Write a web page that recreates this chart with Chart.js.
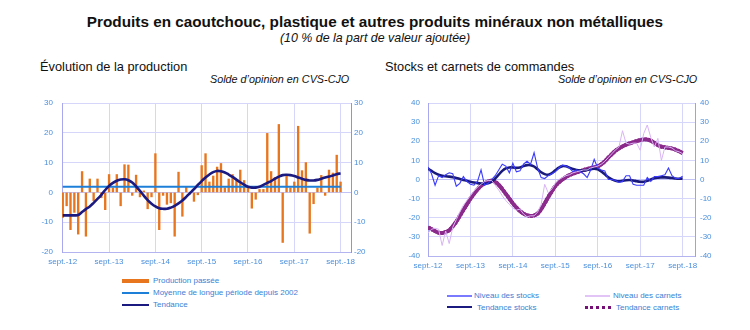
<!DOCTYPE html>
<html>
<head>
<meta charset="utf-8">
<script src="https://cdn.jsdelivr.net/npm/chart.js@4/dist/chart.umd.min.js"></script>
<style>
  body { margin: 0; width: 750px; height: 330px; background: #fff; position: relative; overflow: hidden;
         font-family: "Liberation Sans", Arial, sans-serif; }
  .txt { position: absolute; white-space: nowrap; }
  .title { left: 0; width: 750px; top: 13px; text-align: center; font-weight: bold; font-size: 15.3px; color: #111; }
  .subtitle { left: 0; width: 750px; top: 31px; text-align: center; font-style: italic; font-size: 12.4px; color: #111; }
  .panel { font-size: 12.8px; color: #111; top: 59px; }
  .unit { font-size: 10.8px; font-style: italic; color: #111; top: 73px; }
  .cv { position: absolute; top: 95px; }
  .leg { font-size: 8px; color: #3a7fd5; line-height: 10px; }
  .sw { position: absolute; height: 0; }
</style>
</head>
<body>
<div class="txt title">Produits en caoutchouc, plastique et autres produits minéraux non métalliques</div>
<div class="txt subtitle">(10 % de la part de valeur ajoutée)</div>

<div class="txt panel" style="left:40px">Évolution de la production</div>
<div class="txt unit" style="left:210px">Solde d’opinion en CVS-CJO</div>
<div class="txt panel" style="left:385px">Stocks et carnets de commandes</div>
<div class="txt unit" style="left:558px">Solde d’opinion en CVS-CJO</div>

<canvas id="prod" class="cv" style="left:0" width="375" height="180"></canvas>
<canvas id="stk" class="cv" style="left:375px" width="375" height="180"></canvas>

<!-- legends -->
<div class="sw" style="left:122px;top:279px;width:27px;border-top:4px solid #e8761e"></div>
<div class="txt leg" style="left:153px;top:276px">Production passée</div>
<div class="sw" style="left:122px;top:292px;width:27px;border-top:2px solid #1e7fd8"></div>
<div class="txt leg" style="left:153px;top:288px">Moyenne de longue période depuis 2002</div>
<div class="sw" style="left:122px;top:304px;width:27px;border-top:2px solid #1a1a80"></div>
<div class="txt leg" style="left:153px;top:300px">Tendance</div>

<div class="sw" style="left:447px;top:295px;width:25px;border-top:2px solid #7a7aff"></div>
<div class="txt leg" style="left:474px;top:291px">Niveau des stocks</div>
<div class="sw" style="left:447px;top:306px;width:25px;border-top:2px solid #1a1a80"></div>
<div class="txt leg" style="left:477px;top:303px">Tendance stocks</div>
<div class="sw" style="left:585px;top:295px;width:25px;border-top:2px solid #e2c4f6"></div>
<div class="txt leg" style="left:613px;top:291px">Niveau des carnets</div>
<div class="sw" style="left:585px;top:306px;width:26px;border-top:3px dotted #761076"></div>
<div class="txt leg" style="left:616px;top:303px">Tendance carnets</div>

<script>
// Monthly observations, September 2012 to September 2018 (73 months)
const tickLabels = ['sept.-12', 'sept.-13', 'sept.-14', 'sept.-15', 'sept.-16', 'sept.-17', 'sept.-18'];
const tickMonths = [0, 12, 24, 36, 48, 60, 72];

// Past production (opinion balance)
const production = [
  -8.4, -4.5, -12.5, -6.7, -14, 7, -14.7, 4.5, -2.8, 4.5, -1.8, -5.8,
  6, 1.5, 6, -4.5, 9.3, 9.2, -1, 5.8, -1.5, 0.5, -5.5, -1.5,
  13, -12.5, -1, -4, -3.5, -14.7, 6.8, -8, 1.7, 0, -3, -0.8,
  9, 13, 3.5, 5.5, 8.5, 9.7, 1.5, 4.5, 6, 4, 7.5, 4,
  1.5, -5.3, -2.3, 1, 1, 19.8, 7, 5, 22.8, -16.8, 6, 1.5,
  3.5, 22.2, 7.3, 10, -13.7, -3.8, 1.5, 5.7, -1, 7.5, 6.5, 12.5, 3.5
];
const productionTrend = [
  -7.7, -7.7, -7.7, -7.7, -7.6, -6.6, -5.6, -4.7, -3.5, -2.2, -0.8, 0.8,
  2.2, 3.2, 3.9, 4.3, 4.4, 4.1, 3.3, 2.0, 0.5, -1.1, -2.6, -3.8,
  -4.7, -5.3, -5.5, -5.5, -5.1, -4.5, -3.7, -2.7, -1.5, -0.2, 1.1, 2.5,
  3.8, 5.0, 6.0, 6.8, 7.2, 7.1, 6.7, 6.0, 5.2, 4.3, 3.4, 2.6,
  1.9, 1.6, 1.6, 1.9, 2.5, 3.2, 3.8, 4.6, 5.3, 5.8, 5.9, 5.8,
  5.5, 5.0, 4.6, 4.2, 4.0, 4.0, 4.2, 4.6, 5.0, 5.3, 5.7, 6.1, 6.4
];
const longTermMean = 1.9;

// Inventories and order books
const stocksLevel = [
  6.5, 3, -3, 2, 1, 2.5, 3.5, 3, -3.5, -2, 1.5, -1,
  -2.5, -3, -1, 5, -3, -2, 0, 2, 5, 8, 7, 3.5,
  8.5, 4, 4.5, 8, 9.5, 8, 14, 6, 1, 0.5, 2, 3,
  4, 6, 7.5, 7, 6, 4, 5, 4, 3, 1, 5, 10.5,
  6, 5, 4.5, 0, 0, -0.5, -1.5, -1, 2, 2, -2.5, -3,
  -3, -3, 1, -1, 1.5, 1.5, 2, 2.5, 6, 2, 0.5, 0.5, 1.7
];
const stocksTrend = [
  5.7, 4.5, 3.3, 2.5, 2.0, 1.7, 1.5, 1.2, 0.8, 0.3, -0.2, -0.7,
  -1.2, -1.6, -1.9, -2.1, -2.2, -2.0, -1.2, 0.5, 2.5, 4.5, 5.8, 6.3,
  6.3, 6.1, 6.3, 7.0, 7.5, 7.5, 6.8, 5.3, 3.8, 2.8, 2.5, 3.3,
  4.8, 6.2, 7.0, 6.9, 6.2, 5.5, 5.0, 4.7, 4.7, 5.0, 5.4, 5.7,
  5.3, 4.2, 2.7, 1.2, 0.1, -0.6, -0.9, -0.7, -0.4, -0.3, -0.5, -0.9,
  -1.2, -1.2, -0.7, 0.0, 0.7, 1.0, 1.1, 1.1, 1.0, 0.8, 0.5, 0.4, 0.5
];
const ordersLevel = [
  -28, -26, -25.5, -26, -34.5, -27, -33.5, -25, -21, -17, -13.5, -11,
  -8.5, -6, -4, -2.5, -1, -0.5, -0.5, -3, -5.5, -8.5, -11, -13,
  -15, -16, -15.5, -18, -19.5, -19, -19, -17, -13, -2.5, -7, -5,
  -2, 0, 1, 2, 2.5, 3.5, 4, 4.5, 5, 5, 6, 6.5,
  7, 8, 9.5, 11.5, 13.5, 15.5, 17, 25.5, 19, 18.5, 19, 19,
  15.3, 24, 28.5, 22, 17, 21.5, 10, 17, 17, 16.5, 15, 14.5, 13.5
];
const ordersTrend = [
  -25, -26, -27, -27.8, -28, -27.5, -26.5, -24.5, -22, -19, -16, -13,
  -10, -7.5, -5.2, -3.3, -2, -1, -0.6, -1.2, -2.8, -5, -7.5, -10,
  -12.5, -14.7, -16.5, -17.8, -18.7, -19, -18.8, -17.8, -15.5, -12.5, -9.2, -6.2,
  -3.5, -1.5, 0, 1.3, 2.3, 3, 3.7, 4.3, 5, 5.5, 6, 6.4,
  6.8, 8, 9.5, 11.5, 13.3, 15, 16.3, 17.3, 18.2, 18.9, 19.5, 20.1,
  20.6, 21, 20.9, 20.3, 19.2, 18, 17.2, 16.8, 16.5, 16.2, 15.6, 14.8, 13.8
];

const pts = arr => arr.map((v, i) => ({ x: i, y: v }));

const labelColor = '#4a8fdc';
const gridColor = '#d6d6fb';
const tickFont = { family: '"Liberation Sans", Arial, sans-serif', size: 8 };

Chart.defaults.animation = false;
Chart.defaults.plugins.legend.display = false;
Chart.defaults.plugins.tooltip.enabled = false;

function xAxis(min, max, height) {
  return {
    type: 'linear', min, max, offset: false,
    afterBuildTicks: ax => { ax.ticks = tickMonths.map(v => ({ value: v })); },
    afterFit: s => { s.height = height; s.paddingLeft = 0; s.paddingRight = 0; },
    ticks: { color: labelColor, font: tickFont, padding: 5, maxRotation: 0, autoSkip: false,
             callback: v => tickLabels[tickMonths.indexOf(v)] },
    grid: { color: gridColor, drawTicks: false, offset: false },
    border: { color: '#b4b4f0' }
  };
}
function yAxis(pos, min, max, width, pad, borderColor, drawGrid) {
  return {
    type: 'linear', position: pos, min, max,
    afterFit: s => { s.width = width; s.paddingTop = 0; s.paddingBottom = 0; },
    ticks: { stepSize: 10, color: labelColor, font: tickFont, padding: pad },
    grid: { color: ctx => (ctx.tick && ctx.tick.value === 0 ? '#c2c2f6' : gridColor),
            drawOnChartArea: drawGrid, drawTicks: false },
    border: { color: borderColor }
  };
}

// Production panel
new Chart(document.getElementById('prod'), {
  type: 'bar',
  data: {
    datasets: [
      { type: 'line', data: pts(productionTrend), borderColor: '#1a1a80', borderWidth: 2.6,
        pointRadius: 0, tension: 0.4, order: 0 },
      { type: 'line', data: [{ x: 0, y: longTermMean }, { x: 72, y: longTermMean }],
        borderColor: '#1e7fd8', borderWidth: 2, pointRadius: 0, order: 1 },
      { type: 'bar', data: pts(production), backgroundColor: '#e8761e', barThickness: 1.7, order: 2 }
    ]
  },
  options: {
    responsive: false,
    layout: { padding: { top: 8, left: 0, right: 0, bottom: 0 } },
    scales: {
      x: xAxis(-0.2, 74.7, 23),
      y: yAxis('left', -20, 30, 62, 9, '#a8a8f0', true),
      y2: yAxis('right', -20, 30, 24, 3, '#9a9a9a', false)
    }
  }
});

// Inventories / order books panel
new Chart(document.getElementById('stk'), {
  type: 'line',
  data: {
    datasets: [
      { data: pts(ordersLevel), borderColor: '#d8b4f4', borderWidth: 1, pointRadius: 0, tension: 0 },
      { data: pts(stocksLevel), borderColor: '#3a3aff', borderWidth: 1.1, pointRadius: 0, tension: 0 },
      { data: pts(stocksTrend), borderColor: '#1a1a7a', borderWidth: 2.6, pointRadius: 0, tension: 0.4 },
      { data: pts(ordersTrend), borderColor: '#8c2a8c', borderWidth: 3.8, pointRadius: 0, tension: 0.4 },
      { data: pts(ordersTrend), borderColor: '#6a066a', borderWidth: 3.8, pointRadius: 0, tension: 0.4,
        borderDash: [2.5, 1] }
    ]
  },
  options: {
    responsive: false,
    layout: { padding: { top: 8, left: 0, right: 0, bottom: 0 } },
    scales: {
      x: xAxis(0, 75.5, 19),
      y: yAxis('left', -40, 40, 53, 8, '#a8a8f0', true),
      y2: yAxis('right', -40, 40, 55, 5, '#a0a0e6', false)
    }
  }
});
</script>
</body>
</html>
